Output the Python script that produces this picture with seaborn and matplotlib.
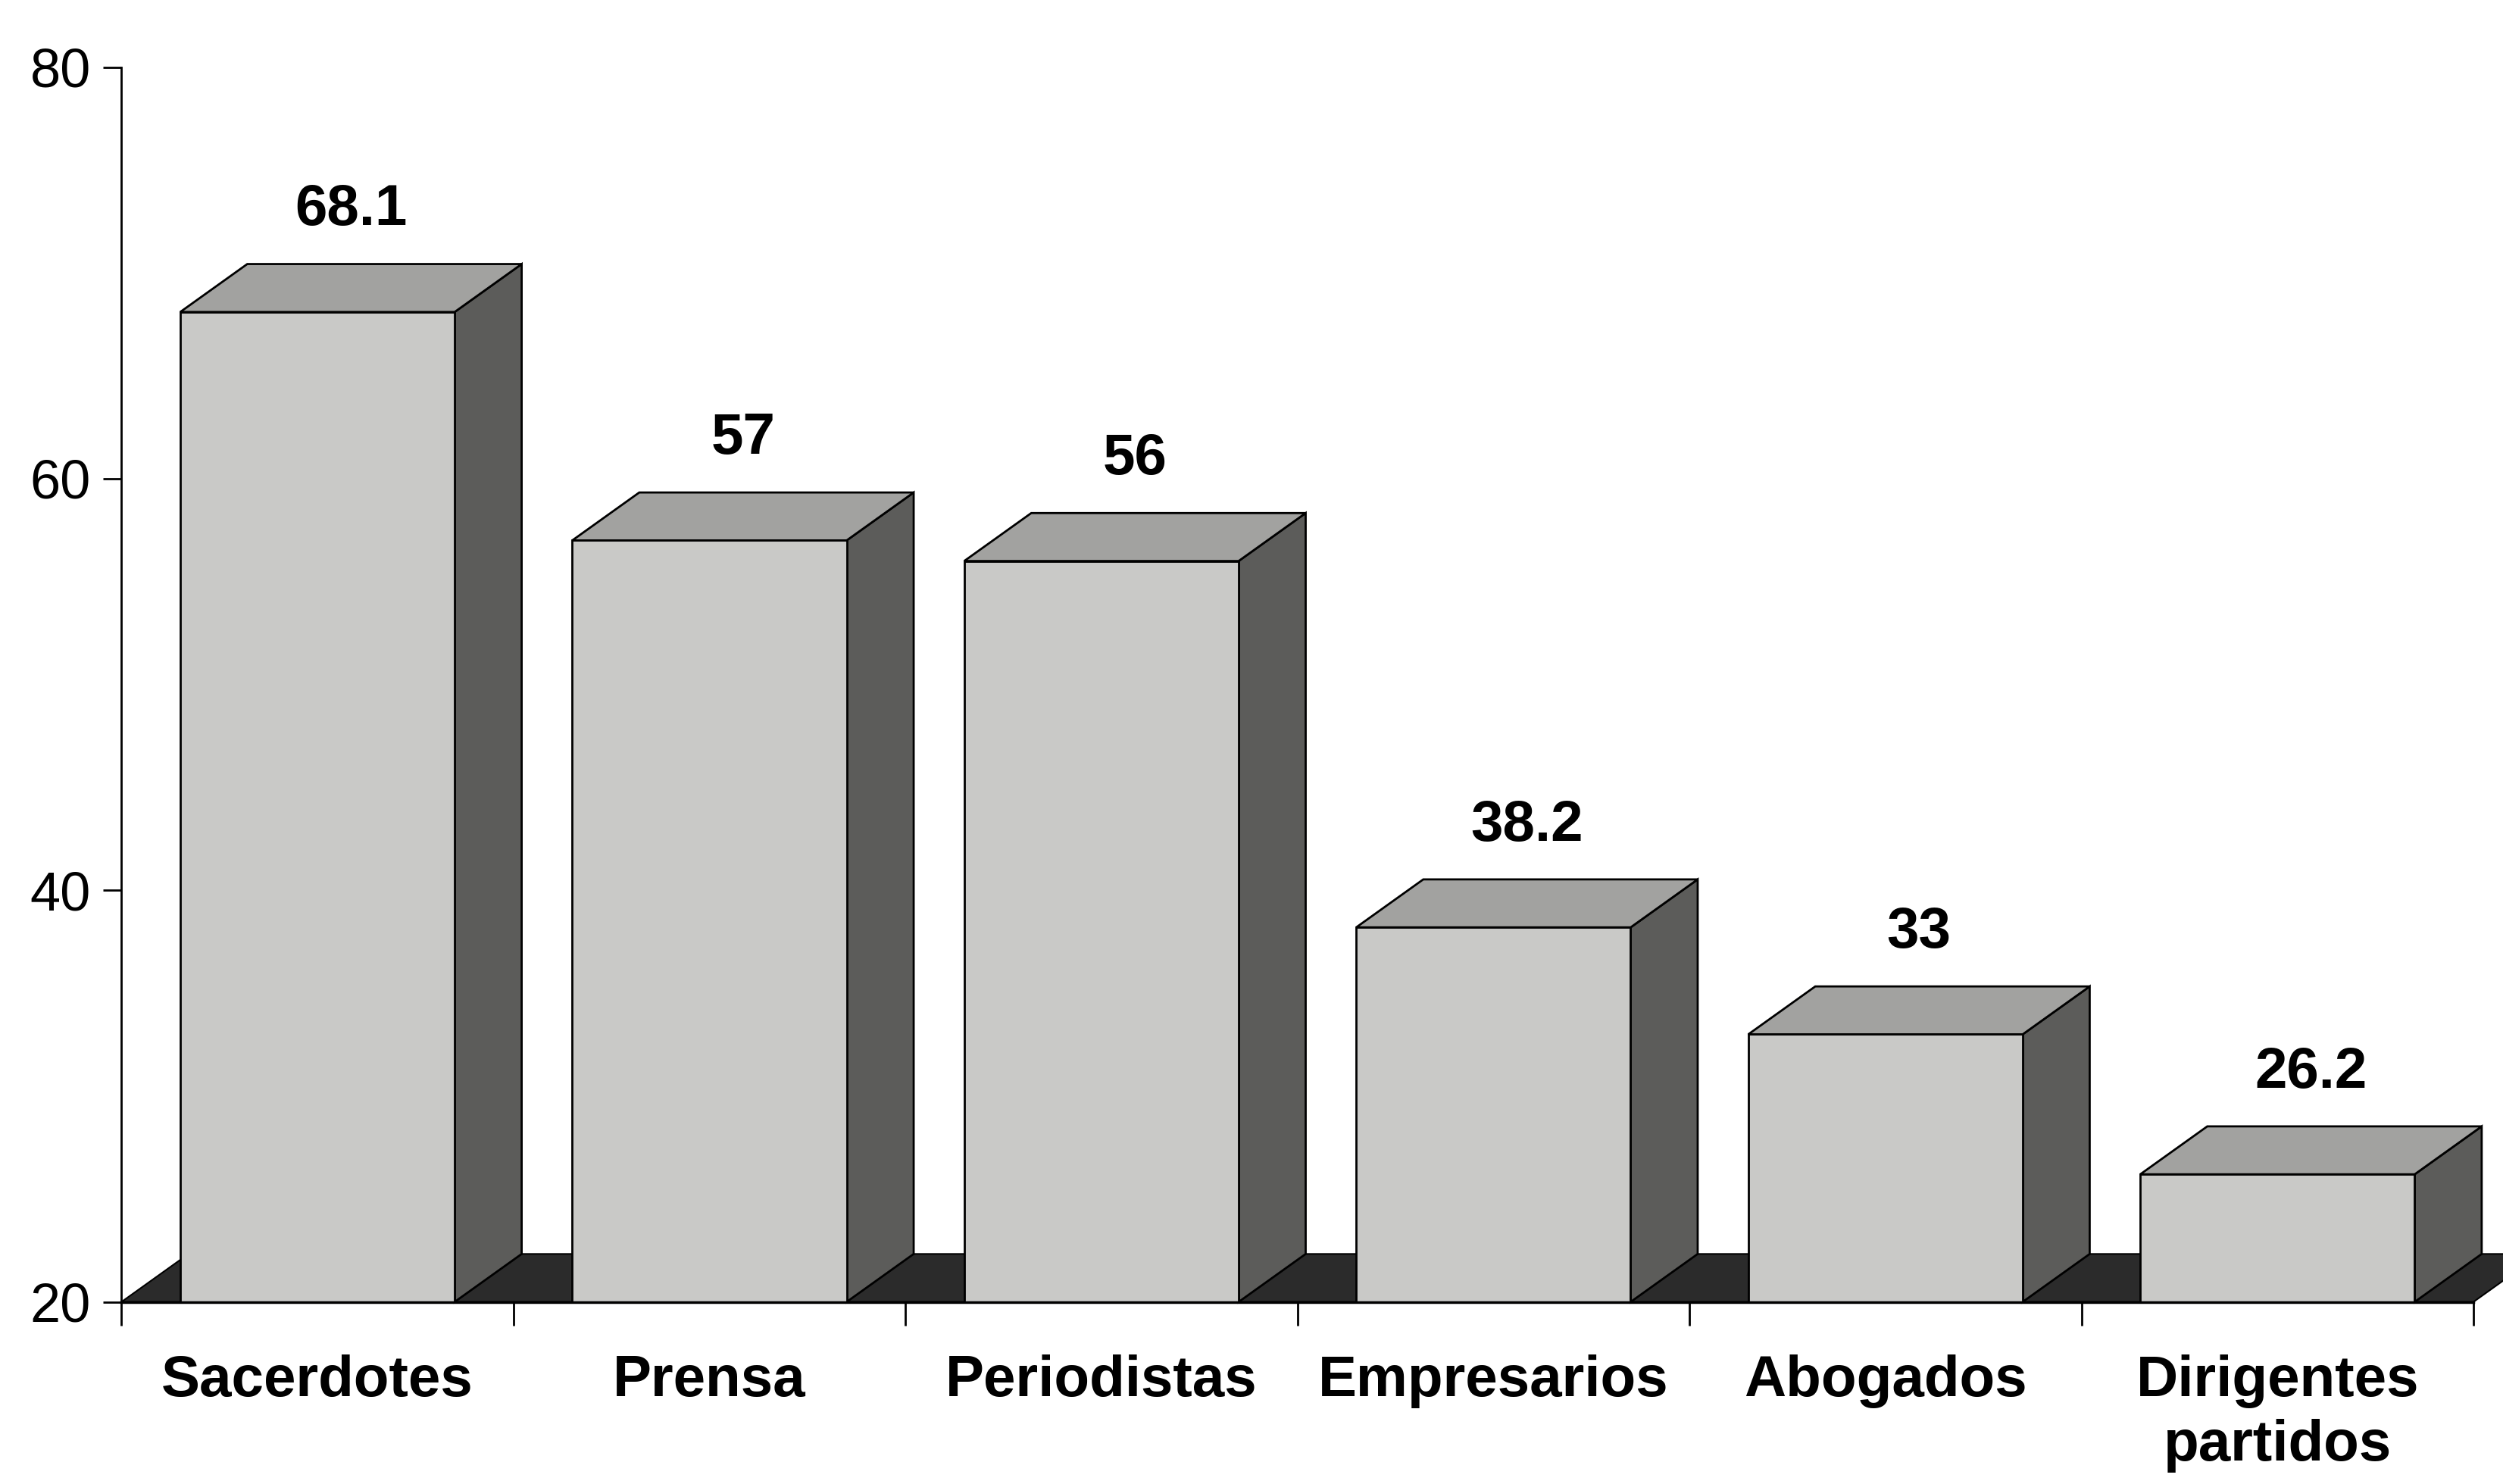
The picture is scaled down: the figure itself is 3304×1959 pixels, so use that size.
import numpy as np
import pandas as pd
import matplotlib
matplotlib.use("Agg")
import matplotlib.pyplot as plt
from matplotlib import font_manager
from matplotlib.patches import Polygon
import seaborn as sns

# data
categories = ["Sacerdotes", "Prensa", "Periodistas", "Empresarios", "Abogados", "Dirigentes\npartidos"]
values = [68.1, 57, 56, 38.2, 33, 26.2]
value_labels = ["68.1", "57", "56", "38.2", "33", "26.2"]
y_ticks = [20, 40, 60, 80]

sns.set_style("white")
names = {f.name for f in font_manager.fontManager.ttflist}
narrow = "Liberation Sans Narrow" if "Liberation Sans Narrow" in names else "Liberation Sans"
plt.rcParams["font.family"] = [narrow, "DejaVu Sans"]
plt.rcParams["text.color"] = "black"
plt.rcParams["xtick.color"] = "black"
plt.rcParams["ytick.color"] = "black"
plt.rcParams["axes.edgecolor"] = "black"

front_col = "#c9c9c7"
top_col = "#a2a2a0"
side_col = "#5c5c5a"
floor_col = "#2b2b2b"

fig = plt.figure(figsize=(33.05, 19.59), dpi=100)
ax = fig.add_axes([0.0485, 0.1227, 0.9394, 0.8321])

df = pd.DataFrame({"cat": categories, "val": values})
sns.barplot(data=df, x="cat", y="val", color=front_col, saturation=1, width=0.7,
            edgecolor="black", linewidth=2, ax=ax, zorder=3)

ax.set_xlim(-0.5, 5.5)
ax.set_ylim(20, 80)

# 3d depth offsets (in data units)
dx = 0.171
dy = 2.33
y0 = 20

# floor
floor = Polygon([(-0.5, y0), (5.5, y0), (5.5 + dx, y0 + dy), (-0.5 + dx, y0 + dy)],
                closed=True, facecolor=floor_col, edgecolor="black", lw=1.5,
                zorder=1, clip_on=False)
ax.add_patch(floor)

for p, lab in zip(ax.patches[:len(values)], value_labels):
    x0 = p.get_x()
    x1 = x0 + p.get_width()
    h = p.get_height()
    side = Polygon([(x1, y0), (x1 + dx, y0 + dy), (x1 + dx, h + dy), (x1, h)],
                   closed=True, facecolor=side_col, edgecolor="black", lw=2,
                   zorder=2.5, clip_on=False)
    top = Polygon([(x0, h), (x1, h), (x1 + dx, h + dy), (x0 + dx, h + dy)],
                  closed=True, facecolor=top_col, edgecolor="black", lw=2,
                  zorder=2.6, clip_on=False)
    ax.add_patch(side)
    ax.add_patch(top)
    ax.text(x0 + p.get_width() / 2 + dx / 2, h + dy + 1.3, lab, ha="center", va="bottom",
            fontsize=55, fontweight="bold", color="black", zorder=5)

ax.set_xlabel("")
ax.set_ylabel("")
ax.set_yticks(y_ticks)
ax.set_yticklabels([str(t) for t in y_ticks], fontsize=52)
ax.tick_params(axis="y", direction="out", length=17, width=2, pad=12, left=True)
ax.tick_params(axis="x", which="major", length=0, pad=50)
ax.set_xticks(np.arange(-0.5, 6, 1), minor=True)
ax.tick_params(axis="x", which="minor", direction="out", length=22, width=2, bottom=True)
for t in ax.get_xticklabels():
    t.set_fontsize(55)
    t.set_fontweight("bold")
    t.set_color("black")
    t.set_linespacing(1.25)
    t.set_verticalalignment("top")

sns.despine(ax=ax, top=True, right=True)
ax.spines["left"].set_linewidth(2)
ax.spines["bottom"].set_linewidth(2.5)
ax.spines["bottom"].set_zorder(4)
ax.grid(False)

fig.savefig("out.png", dpi=100, facecolor="white")
